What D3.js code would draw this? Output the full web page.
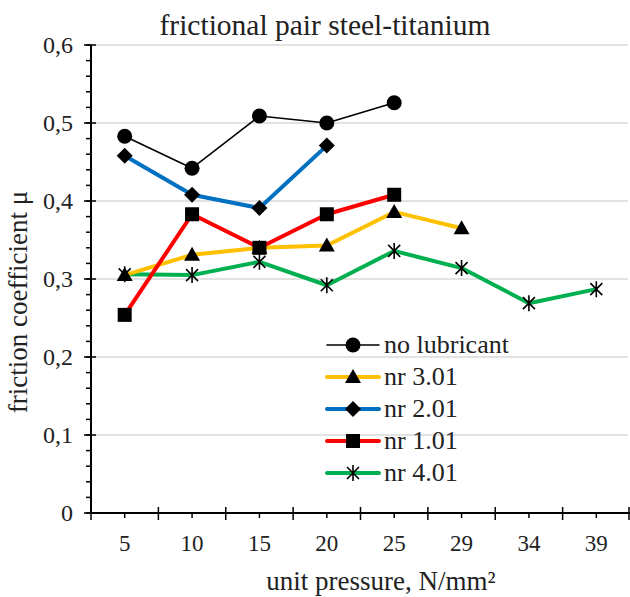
<!DOCTYPE html>
<html><head><meta charset="utf-8">
<script src="https://cdn.jsdelivr.net/npm/d3@7/dist/d3.min.js"></script>
<style>body{margin:0;background:#fff}svg{display:block}text{font-family:"Liberation Serif","Times New Roman",serif;fill:#222}</style>
</head><body>
<svg id="c" width="630" height="597"></svg>
<script>
const categories = ["5","10","15","20","25","29","34","39"];
const yTicks = [0,0.1,0.2,0.3,0.4,0.5,0.6];
const yTickLabels = ["0","0,1","0,2","0,3","0,4","0,5","0,6"];
const noLubricant = [0.483,0.442,0.509,0.500,0.526];
const nr301 = [0.305,0.331,0.340,0.343,0.386,0.365];
const nr201 = [0.458,0.408,0.391,0.471];
const nr101 = [0.254,0.383,0.340,0.383,0.408];
const nr401 = [0.306,0.305,0.322,0.292,0.336,0.314,0.269,0.287];
const seriesNames = ["no lubricant","nr 3.01","nr 2.01","nr 1.01","nr 4.01"];

const series = [
  {name:seriesNames[0], values:noLubricant, color:"#000000", width:1.6, marker:"circle"},
  {name:seriesNames[1], values:nr301, color:"#FFC000", width:4, marker:"triangle"},
  {name:seriesNames[2], values:nr201, color:"#0070C0", width:4, marker:"diamond"},
  {name:seriesNames[3], values:nr101, color:"#FF0000", width:4, marker:"square"},
  {name:seriesNames[4], values:nr401, color:"#00B050", width:4, marker:"star"}
];
const drawOrder = [4,1,2,3,0];

const svg = d3.select("#c");
const L=91, R=630, T=45, B=513;
const x = d3.scaleBand().domain(categories).range([L,R]).padding(0);
const y = d3.scaleLinear().domain([0,0.6]).range([B,T]);

// gridlines
svg.append("g").selectAll("line").data(yTicks.slice(1)).join("line")
  .attr("x1",L).attr("x2",R-2).attr("y1",d=>y(d)).attr("y2",d=>y(d))
  .attr("stroke","#d9d9d9").attr("stroke-width",1.5);

// title
svg.append("text").attr("x",325).attr("y",35).attr("text-anchor","middle")
  .style("font-size","29.5px").text("frictional pair steel-titanium");

// y axis
const yAxis = svg.append("g");
yAxis.append("line").attr("x1",L).attr("x2",L).attr("y1",T).attr("y2",B).attr("stroke","#000").attr("stroke-width",2);
const minor = d3.range(0,0.6001,0.02);
yAxis.selectAll(".mn").data(minor).join("line").attr("x1",L-5).attr("x2",L)
  .attr("y1",d=>y(d)).attr("y2",d=>y(d)).attr("stroke","#000").attr("stroke-width",1.5);
yAxis.selectAll(".mj").data(yTicks).join("line").attr("x1",L-7).attr("x2",L+5)
  .attr("y1",d=>y(d)).attr("y2",d=>y(d)).attr("stroke","#000").attr("stroke-width",1.5);
yAxis.selectAll("text").data(yTicks).join("text").attr("x",L-18).attr("y",d=>y(d)+8)
  .attr("text-anchor","end").style("font-size","24px").text((d,i)=>yTickLabels[i]);

// x axis
const xAxis = svg.append("g");
xAxis.append("line").attr("x1",L).attr("x2",R).attr("y1",B).attr("y2",B).attr("stroke","#000").attr("stroke-width",2);
const bounds = categories.map(c=>x(c)).concat([R-1]);
xAxis.selectAll(".mj").data(bounds).join("line").attr("x1",d=>d).attr("x2",d=>d)
  .attr("y1",B-6).attr("y2",B+7).attr("stroke","#000").attr("stroke-width",1.5);
xAxis.selectAll(".mn").data(categories).join("line").attr("x1",d=>x(d)+x.bandwidth()/2).attr("x2",d=>x(d)+x.bandwidth()/2)
  .attr("y1",B).attr("y2",B+5).attr("stroke","#000").attr("stroke-width",1.5);
xAxis.selectAll("text").data(categories).join("text").attr("x",d=>x(d)+x.bandwidth()/2).attr("y",B+38)
  .attr("text-anchor","middle").style("font-size","23px").text(d=>d);

svg.append("text").attr("x",381).attr("y",590).attr("text-anchor","middle")
  .style("font-size","27px").text("unit pressure, N/mm²");
svg.append("text").attr("transform","translate(27,"+302+") rotate(-90)").attr("text-anchor","middle")
  .style("font-size","27px").text("friction coefficient μ");

function drawMarker(g, type, cx, cy){
  const s=7;
  if(type==="circle") g.append("circle").attr("cx",cx).attr("cy",cy).attr("r",7.5).attr("fill","#000");
  else if(type==="square") g.append("rect").attr("x",cx-s).attr("y",cy-s).attr("width",2*s).attr("height",2*s).attr("fill","#000");
  else if(type==="diamond") g.append("path").attr("d",`M${cx},${cy-8}L${cx+8},${cy}L${cx},${cy+8}L${cx-8},${cy}Z`).attr("fill","#000");
  else if(type==="triangle") g.append("path").attr("d",`M${cx},${cy-8}L${cx+8},${cy+6}L${cx-8},${cy+6}Z`).attr("fill","#000");
  else if(type==="star"){
    g.append("path").attr("d",`M${cx-6},${cy-6}L${cx+6},${cy+6}M${cx+6},${cy-6}L${cx-6},${cy+6}M${cx},${cy-8}L${cx},${cy+8}`)
      .attr("stroke","#000").attr("stroke-width",1.6).attr("fill","none");
  }
}

const cx = c => x(c)+x.bandwidth()/2;
const line = d3.line().x((d,i)=>cx(categories[i])).y(d=>y(d));
drawOrder.forEach(k=>{
  const s = series[k];
  const g = svg.append("g");
  g.append("path").datum(s.values).attr("d",line).attr("fill","none").attr("stroke",s.color)
    .attr("stroke-width",s.width).attr("stroke-linejoin","round");
  s.values.forEach((v,i)=>drawMarker(g,s.marker,cx(categories[i]),y(v)));
});

// legend
const lg = svg.append("g");
series.forEach((s,i)=>{
  const yy = 345 + i*32;
  lg.append("line").attr("x1",327).attr("x2",379).attr("y1",yy).attr("y2",yy).attr("stroke",s.color).attr("stroke-width",s.width).attr("stroke-linecap","round");
  drawMarker(lg,s.marker,353,yy);
  lg.append("text").attr("x",384).attr("y",yy+8).style("font-size","26px").text(s.name);
});
</script>
</body></html>
